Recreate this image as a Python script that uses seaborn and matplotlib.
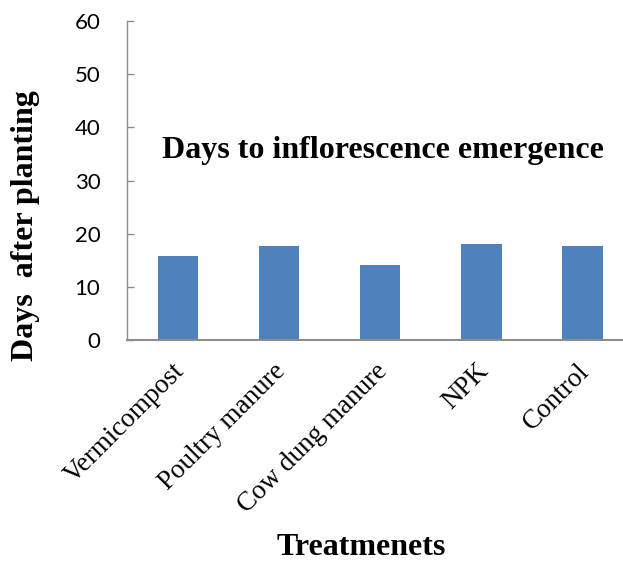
import matplotlib
matplotlib.use("Agg")
import matplotlib.pyplot as plt
from matplotlib.transforms import ScaledTranslation
import seaborn as sns
import pandas as pd

# Days after planting until inflorescence emergence, per treatment
treatments = ["Vermicompost", "Poultry manure", "Cow dung manure", "NPK", "Control"]
days = [15.9, 17.6, 14.1, 18.1, 17.6]
y_ticks = [0, 10, 20, 30, 40, 50, 60]

df = pd.DataFrame({"Treatment": treatments, "Days": days})

sns.set_theme(style="white")
plt.rcParams["font.family"] = ["Liberation Serif", "DejaVu Serif"]
plt.rcParams["text.color"] = "black"
plt.rcParams["xtick.color"] = "black"
plt.rcParams["ytick.color"] = "black"

fig = plt.figure(figsize=(6.23, 5.63), dpi=100)
ax = fig.add_axes([0.2045, 0.396, 0.7955, 0.5667])

sns.barplot(data=df, x="Treatment", y="Days", color="#4F81BD", saturation=1,
            width=0.4, ax=ax, linewidth=0)

ax.set_xlim(-0.5, 4.4)
ax.set_ylim(0, 60)
ax.set_yticks(y_ticks)
ax.set_yticklabels([str(t) for t in y_ticks], fontfamily="Lato", fontsize=16,
                   color="black")
ax.tick_params(axis="y", direction="in", length=5, width=1, color="#8C8C8C",
               pad=19.5, left=True)
ax.tick_params(axis="x", length=0, pad=4)

ax.set_xticks(range(len(treatments)))
ax.set_xticklabels(treatments, rotation=45, ha="right", va="center",
                   rotation_mode="anchor", fontsize=19.5, color="black")
shift = ScaledTranslation(3 / 100, -22 / 100, fig.dpi_scale_trans)
for lab in ax.get_xticklabels():
    lab.set_transform(lab.get_transform() + shift)

for side in ["top", "right"]:
    ax.spines[side].set_visible(False)
ax.spines["left"].set_color("#8C8C8C")
ax.spines["left"].set_linewidth(1.0)
ax.spines["bottom"].set_color("#8C8C8C")
ax.spines["bottom"].set_linewidth(1.5)

ax.set_xlabel("")
ax.set_ylabel("")

fig.text(0.0417, 0.5986, "Days  after planting", rotation=90, ha="center",
         va="center", fontsize=23, fontweight="bold", color="black")
fig.text(0.5795, 0.0142, "Treatmenets", ha="center", va="baseline",
         fontsize=23, fontweight="bold", color="black")
fig.text(0.6148, 0.7194, "Days to inflorescence emergence", ha="center",
         va="baseline", fontsize=23, fontweight="bold", color="black")

fig.savefig("out.png", dpi=100)
